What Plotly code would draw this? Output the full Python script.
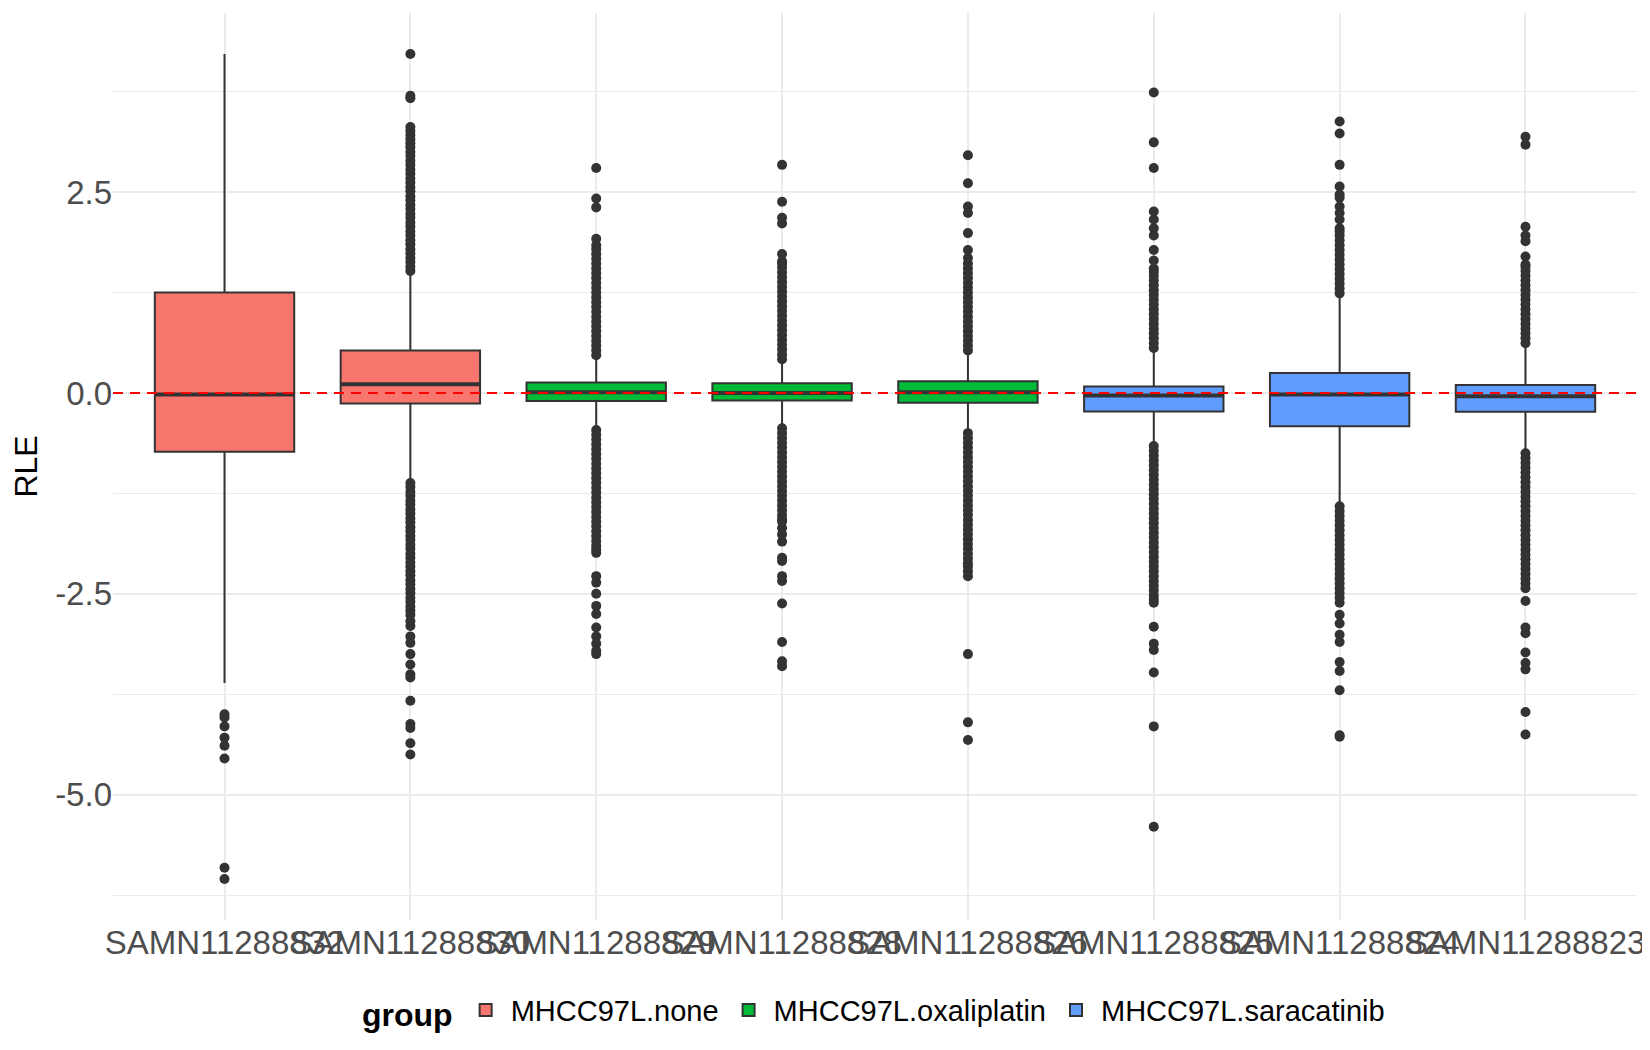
import plotly.graph_objects as go

# samples in plotting order and their group
samples = ["SAMN11288832", "SAMN11288830", "SAMN11288829", "SAMN11288828",
           "SAMN11288826", "SAMN11288825", "SAMN11288824", "SAMN11288823"]
groups = ["MHCC97L.none", "MHCC97L.none",
          "MHCC97L.oxaliplatin", "MHCC97L.oxaliplatin", "MHCC97L.oxaliplatin",
          "MHCC97L.saracatinib", "MHCC97L.saracatinib", "MHCC97L.saracatinib"]

# box statistics (RLE)
q1 = [-0.73, -0.13, -0.10, -0.095, -0.12, -0.23, -0.415, -0.235]
med = [-0.02, 0.11, 0.01, 0.0, 0.01, -0.03, -0.02, -0.04]
q3 = [1.25, 0.53, 0.13, 0.12, 0.145, 0.08, 0.25, 0.10]
lower = [-3.61, -1.08, -0.43, -0.40, -0.47, -0.63, -1.37, -0.72]
upper = [4.22, 1.48, 0.44, 0.39, 0.48, 0.52, 1.20, 0.58]

# outliers per sample
out_832 = [-4.00, -4.04, -4.15, -4.29, -4.39, -4.55, -5.91, -6.05]
out_830 = [1.52, 1.57, 1.63, 1.68, 1.74, 1.79, 1.85, 1.90, 1.96, 2.01, 2.07, 2.12,
           2.18, 2.23, 2.29, 2.34, 2.40, 2.45, 2.51, 2.56, 2.62, 2.67, 2.73, 2.78,
           2.84, 2.89, 2.95, 3.00, 3.06, 3.11, 3.16, 3.21, 3.26, 3.31, 3.67, 3.70, 4.22,
           -1.12, -1.17, -1.23, -1.28, -1.34, -1.39, -1.45, -1.50, -1.56, -1.61, -1.67,
           -1.72, -1.78, -1.83, -1.89, -1.94, -2.00, -2.05, -2.11, -2.16, -2.22, -2.27,
           -2.33, -2.38, -2.44, -2.49, -2.55, -2.60, -2.66, -2.71, -2.76, -2.84, -2.90,
           -3.03, -3.11, -3.25, -3.38, -3.50, -3.54, -3.83, -4.12, -4.17, -4.36, -4.50]
out_829 = [0.47, 0.53, 0.59, 0.65, 0.71, 0.77, 0.83, 0.89, 0.95, 1.01, 1.07, 1.13,
           1.19, 1.25, 1.31, 1.37, 1.43, 1.49, 1.55, 1.61, 1.67, 1.73, 1.79, 1.84,
           1.92, 2.31, 2.42, 2.80,
           -0.46, -0.52, -0.58, -0.64, -0.70, -0.76, -0.82, -0.88, -0.94, -1.00, -1.06,
           -1.12, -1.18, -1.24, -1.30, -1.36, -1.42, -1.48, -1.54, -1.60, -1.66, -1.72,
           -1.78, -1.84, -1.90, -1.95, -1.99, -2.28, -2.36, -2.50, -2.65, -2.75, -2.92,
           -3.03, -3.12, -3.21, -3.25]
out_828 = [0.42, 0.48, 0.54, 0.60, 0.66, 0.72, 0.78, 0.84, 0.90, 0.96, 1.02, 1.08,
           1.14, 1.20, 1.26, 1.32, 1.38, 1.44, 1.50, 1.56, 1.61, 1.64, 1.73, 2.11,
           2.18, 2.38, 2.84,
           -0.44, -0.50, -0.56, -0.62, -0.68, -0.74, -0.80, -0.86, -0.92, -0.98, -1.04,
           -1.10, -1.16, -1.22, -1.28, -1.34, -1.40, -1.46, -1.52, -1.57, -1.60, -1.68,
           -1.76, -1.85, -2.05, -2.09, -2.28, -2.34, -2.62, -3.10, -3.34, -3.40]
out_826 = [0.53, 0.59, 0.65, 0.71, 0.77, 0.83, 0.89, 0.95, 1.01, 1.07, 1.13, 1.19,
           1.25, 1.31, 1.37, 1.43, 1.49, 1.55, 1.61, 1.68, 1.78, 1.99, 2.24, 2.32,
           2.61, 2.96,
           -0.50, -0.56, -0.62, -0.68, -0.74, -0.80, -0.86, -0.92, -0.98, -1.04, -1.10,
           -1.16, -1.22, -1.28, -1.34, -1.40, -1.46, -1.52, -1.58, -1.64, -1.70, -1.76,
           -1.82, -1.88, -1.94, -2.00, -2.06, -2.12, -2.16, -2.22, -2.28, -3.25, -4.10,
           -4.32]
out_825 = [0.56, 0.62, 0.68, 0.74, 0.80, 0.86, 0.92, 0.98, 1.04, 1.10, 1.16, 1.22,
           1.28, 1.34, 1.40, 1.46, 1.51, 1.55, 1.65, 1.78, 1.96, 2.05, 2.16, 2.26,
           2.80, 3.12, 3.74,
           -0.66, -0.72, -0.78, -0.84, -0.90, -0.96, -1.02, -1.08, -1.14, -1.20, -1.26,
           -1.32, -1.38, -1.44, -1.50, -1.56, -1.62, -1.68, -1.74, -1.80, -1.86, -1.92,
           -1.98, -2.04, -2.10, -2.16, -2.22, -2.28, -2.34, -2.40, -2.46, -2.52, -2.57,
           -2.61, -2.91, -3.12, -3.20, -3.48, -4.15, -5.40]
out_824 = [1.24, 1.30, 1.36, 1.42, 1.48, 1.54, 1.60, 1.66, 1.72, 1.78, 1.84, 1.90,
           1.96, 2.01, 2.05, 2.16, 2.24, 2.32, 2.43, 2.47, 2.57, 2.84, 3.23, 3.38,
           -1.41, -1.47, -1.53, -1.59, -1.65, -1.71, -1.77, -1.83, -1.89, -1.95, -2.01,
           -2.07, -2.13, -2.19, -2.25, -2.31, -2.37, -2.43, -2.49, -2.55, -2.61, -2.76,
           -2.87, -3.01, -3.10, -3.35, -3.46, -3.70, -4.26, -4.28]
out_823 = [0.62, 0.68, 0.74, 0.80, 0.86, 0.92, 0.98, 1.04, 1.10, 1.16, 1.22, 1.28,
           1.34, 1.40, 1.46, 1.52, 1.57, 1.60, 1.70, 1.89, 1.96, 2.07, 3.09, 3.19,
           -0.75, -0.81, -0.87, -0.93, -0.99, -1.05, -1.11, -1.17, -1.23, -1.29, -1.35,
           -1.41, -1.47, -1.53, -1.59, -1.65, -1.71, -1.77, -1.83, -1.89, -1.95, -2.01,
           -2.07, -2.13, -2.19, -2.25, -2.31, -2.37, -2.43, -2.59, -2.92, -2.99, -3.23,
           -3.36, -3.44, -3.97, -4.25]
outliers = [out_832, out_830, out_829, out_828, out_826, out_825, out_824, out_823]

y_ticks = [-5.0, -2.5, 0.0, 2.5]
y_ticklabels = ["-5.0", "-2.5", "0.0", "2.5"]

colors = {"MHCC97L.none": "#F8766D",
          "MHCC97L.oxaliplatin": "#00BA38",
          "MHCC97L.saracatinib": "#619CFF"}

fig = go.Figure()

# boxes, one trace per group
for g in colors:
    idx = [i for i, gg in enumerate(groups) if gg == g]
    fig.add_trace(go.Box(
        x=[samples[i] for i in idx],
        q1=[q1[i] for i in idx], median=[med[i] for i in idx],
        q3=[q3[i] for i in idx],
        lowerfence=[lower[i] for i in idx], upperfence=[upper[i] for i in idx],
        name=g, fillcolor=colors[g], line=dict(color="#333333", width=2),
        width=0.75, whiskerwidth=0, boxpoints=False, hoverinfo="skip"))

# thicker median line like ggplot
for g in colors:
    idx = [i for i, gg in enumerate(groups) if gg == g]
    m = [med[i] for i in idx]
    fig.add_trace(go.Box(
        x=[samples[i] for i in idx], q1=m, median=m, q3=m, lowerfence=m, upperfence=m,
        fillcolor="rgba(0,0,0,0)", line=dict(color="#333333", width=4),
        width=0.75, whiskerwidth=0, boxpoints=False, showlegend=False,
        hoverinfo="skip"))

# outlier points
for s, pts in zip(samples, outliers):
    fig.add_trace(go.Scatter(
        x=[s] * len(pts), y=pts, mode="markers",
        marker=dict(color="#333333", size=10), showlegend=False, hoverinfo="skip"))

fig.add_hline(y=0, line=dict(color="red", width=2, dash="10px,7px"))

grid = "#EBEBEB"
fig.update_layout(
    width=1650, height=1050,
    margin=dict(l=105, r=21, t=5, b=138),
    plot_bgcolor="white", paper_bgcolor="white",
    font=dict(family="Liberation Sans, Arial, sans-serif", color="black"),
    boxmode="overlay",
    xaxis=dict(type="category", categoryorder="array", categoryarray=samples,
               range=[-0.6, 7.6], showgrid=True, gridcolor=grid, gridwidth=1.5,
               zeroline=False, showline=False, ticks="", tickangle=0,
               automargin=False,
               tickfont=dict(size=33, color="#4D4D4D")),
    yaxis=dict(range=[-6.56, 4.73], tickvals=y_ticks, ticktext=y_ticklabels,
               showgrid=True, gridcolor=grid, gridwidth=1.5, zeroline=False,
               showline=False, ticks="", automargin=False,
               tickfont=dict(size=33, color="#4D4D4D"),
               title=dict(text="RLE", font=dict(size=32, color="black"), standoff=12),
               minor=dict(tickvals=[-6.25, -3.75, -1.25, 1.25, 3.75],
                          showgrid=True, gridcolor=grid, gridwidth=0.8)),
    legend=dict(orientation="h", x=0.5, xanchor="center", y=-0.1, yanchor="middle",
                font=dict(size=29, color="black"), itemwidth=40,
                title=dict(text="<b>group</b>", font=dict(size=32), side="left")),
)

fig.write_html("out.html")
